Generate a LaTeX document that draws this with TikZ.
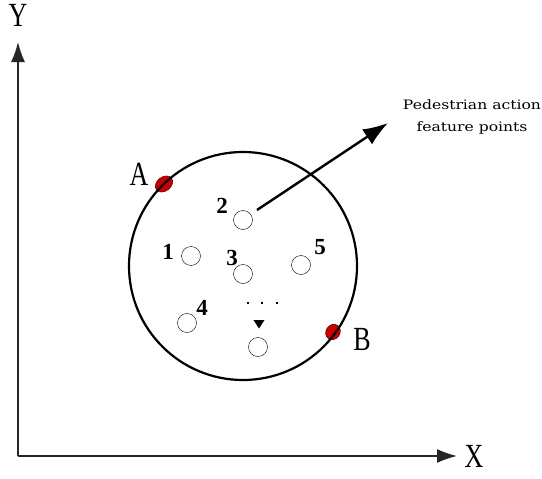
\documentclass[tikz,border=0pt]{standalone}
\usepackage{fontspec}
\setmainfont{Liberation Serif}
\newfontfamily\notefont{DejaVu Serif}
\usepackage{tikz}
\usetikzlibrary{arrows.meta,positioning,calc,shapes.geometric}
\definecolor{markred}{RGB}{200,0,0}
\tikzset{
    fpt/.style={circle,draw,thin,minimum size=19pt,inner sep=0pt},
    axislbl/.style={font=\fontsize{26}{26}\selectfont,yscale=1.3,inner sep=0pt},
    numlbl/.style={font=\fontsize{23}{23}\selectfont\bfseries,inner sep=0pt},
    axisline/.style={line width=1.5pt,black!85,-{Latex[length=20pt,width=14pt]}},
}
\newcommand{\dotrow}{\foreach \x in {248,262,277}{\fill (\x-1.4,301.6) rectangle (\x+1.4,304.4);}}
\newcommand{\bndmark}[4]{\filldraw[fill=markred,draw=markred!55!black,line width=0.6pt,rotate around={#2:(#1)}] (#1) ellipse (#3 and #4);}

\begin{document}
\begin{tikzpicture}[x=1pt,y=-1pt]
\useasboundingbox (0,0) rectangle (542,479);
% axes
\coordinate (O) at (18,456);
\coordinate (ytip) at (18,42);
\coordinate (xtip) at (457,456);
\draw[axisline] (O)--(ytip);
\draw[axisline] (O)--(xtip);
\node[axislbl] (ylbl) at (18,15) {Y};
\node[axislbl] (xlbl) at (474,456) {X};
% region
\coordinate (ctr) at (243,266);
\coordinate (A) at (164,184);
\coordinate (B) at (333,332);
\bndmark{A}{38}{9.5pt}{7pt} \bndmark{B}{55}{8pt}{7pt}
\draw[line width=2.2pt] (ctr) circle (114pt);
\node[axislbl] (albl) at (139,174) {A};
\node[axislbl] (blbl) at (362,339) {B};
% feature points
\foreach \i/\x/\y in {1/191/256,2/243/220,3/243/274,4/187/323,5/301/265,6/258/347}{\node[fpt] (c\i) at (\x,\y) {};}
\foreach \i/\x/\y in {1/168/252,2/222/206,3/232/258,4/202/308,5/320/247}{\node[numlbl] (l\i) at (\x,\y) {\i};}
\dotrow
\fill (253.5,320)--(264.5,320)--(259,328.5)--cycle;
% note
\coordinate (tip) at (388,123);
\draw[line width=2.4pt,-{Latex[length=25pt,width=18pt]}] ($(c2)+(14,-10)$)--(tip);
\node[font=\notefont\fontsize{13}{22}\selectfont,xscale=1.2,align=center] (note) at (472,117) {Pedestrian action\\feature points};
\end{tikzpicture}
\end{document}
